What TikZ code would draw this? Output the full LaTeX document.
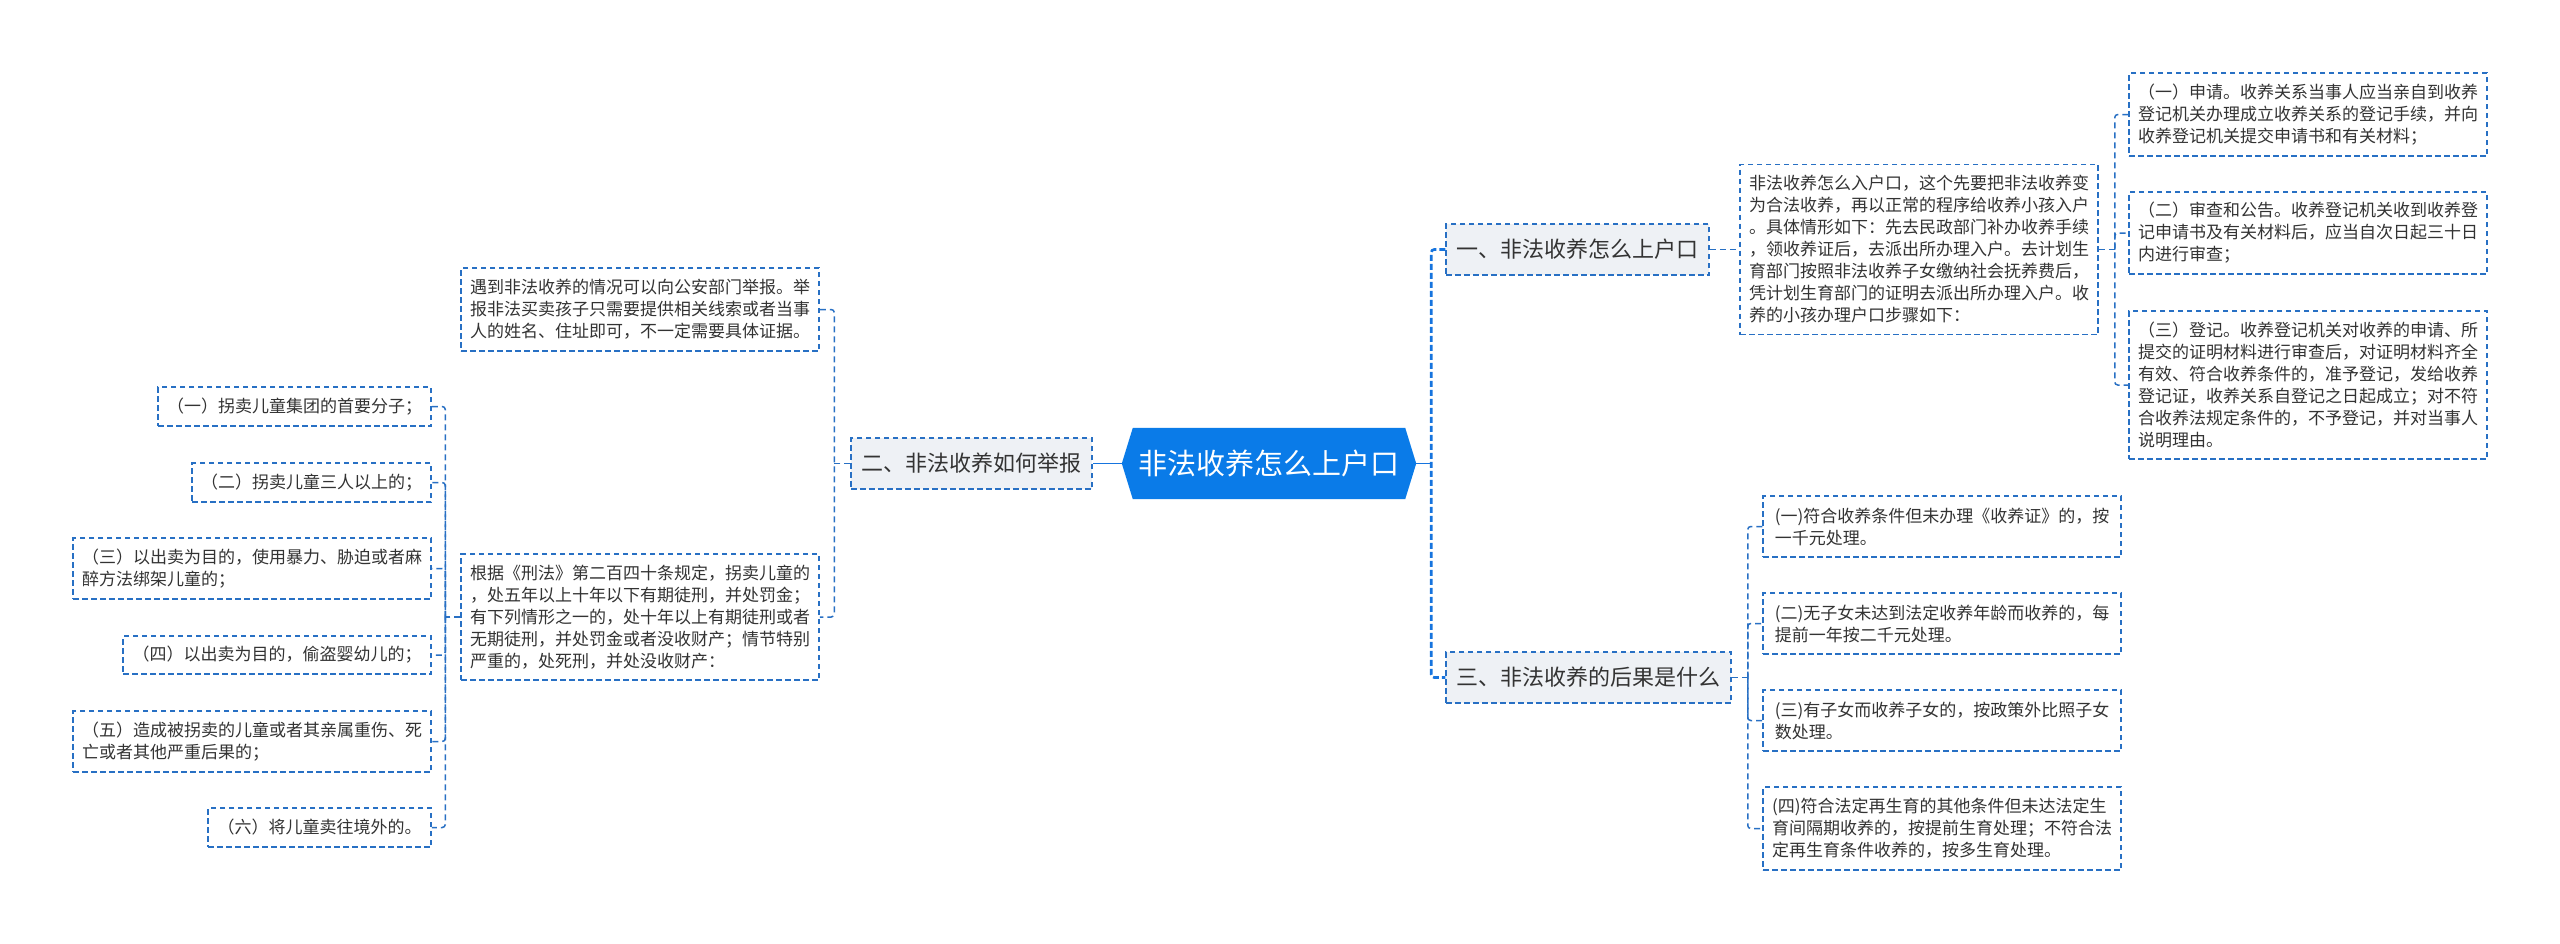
\documentclass[tikz,border=0pt]{standalone}
\usepackage{fontspec}
\setmainfont{Noto Sans CJK SC}
\usetikzlibrary{backgrounds}
\definecolor{hexblue}{RGB}{10,123,232}
\definecolor{bordblue}{RGB}{40,112,196}
\definecolor{trunkblue}{RGB}{22,116,222}
\definecolor{lgray}{RGB}{238,241,245}
\definecolor{txt}{RGB}{51,51,51}
\newcommand{\myleaffont}{\fontsize{17}{22}\selectfont}
\newcommand{\mymidfont}{\fontsize{22}{28}\selectfont}
\newcommand{\myhexfont}{\fontsize{29}{35}\selectfont}
\tikzset{
  leafbox/.style={draw=bordblue, line width=1.5pt, dash pattern=on 5.5pt off 3.5pt, fill=white, text=txt, font=\myleaffont, align=left, inner sep=0pt},
  midbox/.style={draw=bordblue, line width=1.5pt, dash pattern=on 5.5pt off 3.5pt, fill=lgray, text=txt, font=\mymidfont, inner sep=0pt},
  hexnode/.style={text=white, font=\myhexfont, inner sep=0pt},
  conn/.style={draw=bordblue, line width=1.5pt, dash pattern=on 6pt off 4pt, rounded corners=3pt},
  mainconn/.style={draw=trunkblue, line width=2.6pt, dash pattern=on 6pt off 3pt, rounded corners=3pt},
  solidconn/.style={draw=trunkblue, line width=1.8pt}
}
\begin{document}
\begin{tikzpicture}[x=1pt,y=-1pt]
\useasboundingbox (0,0) rectangle (2560,943);
% center
\node[hexnode, minimum width=294pt, minimum height=71pt] (hex) at (1269,463.5) {非法收养怎么上户口};
\begin{scope}[on background layer]
\fill[white] (0,0) rectangle (2560,943);
\fill[hexblue] (hex.west) -- ([xshift=11pt]hex.north west) -- ([xshift=-11pt]hex.north east) -- (hex.east) -- ([xshift=-11pt]hex.south east) -- ([xshift=11pt]hex.south west) -- cycle;
\end{scope}
% level 1
\node[midbox, minimum width=263pt, minimum height=51pt] (one) at (1577.5,249.5) {一、非法收养怎么上户口};
\node[midbox, minimum width=241pt, minimum height=51pt] (two) at (971.5,463.5) {二、非法收养如何举报};
\node[midbox, minimum width=285pt, minimum height=51pt] (three) at (1588.5,677.5) {三、非法收养的后果是什么};
% right top
\node[leafbox, minimum width=358pt, minimum height=170pt] (t0) at (1919,249.5) {非法收养怎么入户口，这个先要把非法收养变\\为合法收养，再以正常的程序给收养小孩入户\\。具体情形如下：先去民政部门补办收养手续\\，领收养证后，去派出所办理入户。去计划生\\育部门按照非法收养子女缴纳社会抚养费后，\\凭计划生育部门的证明去派出所办理入户。收\\养的小孩办理户口步骤如下：};
\node[leafbox, minimum width=358pt, minimum height=83pt] (r1) at (2308,114.5) {（一）申请。收养关系当事人应当亲自到收养\\登记机关办理成立收养关系的登记手续，并向\\收养登记机关提交申请书和有关材料；};
\node[leafbox, minimum width=358pt, minimum height=82pt] (r2) at (2308,233) {（二）审查和公告。收养登记机关收到收养登\\记申请书及有关材料后，应当自次日起三十日\\内进行审查；};
\node[leafbox, minimum width=358pt, minimum height=148pt] (r3) at (2308,385) {（三）登记。收养登记机关对收养的申请、所\\提交的证明材料进行审查后，对证明材料齐全\\有效、符合收养条件的，准予登记，发给收养\\登记证，收养关系自登记之日起成立；对不符\\合收养法规定条件的，不予登记，并对当事人\\说明理由。};
% right bottom
\node[leafbox, minimum width=358pt, minimum height=61pt] (s1) at (1942,526.5) {(一)符合收养条件但未办理《收养证》的，按\\一千元处理。};
\node[leafbox, minimum width=358pt, minimum height=61pt] (s2) at (1942,623.5) {(二)无子女未达到法定收养年龄而收养的，每\\提前一年按二千元处理。};
\node[leafbox, minimum width=358pt, minimum height=61pt] (s3) at (1942,720.5) {(三)有子女而收养子女的，按政策外比照子女\\数处理。};
\node[leafbox, minimum width=358pt, minimum height=83pt] (s4) at (1942,828.5) {(四)符合法定再生育的其他条件但未达法定生\\育间隔期收养的，按提前生育处理；不符合法\\定再生育条件收养的，按多生育处理。};
% left
\node[leafbox, minimum width=358pt, minimum height=83pt] (p1) at (640,309.5) {遇到非法收养的情况可以向公安部门举报。举\\报非法买卖孩子只需要提供相关线索或者当事\\人的姓名、住址即可，不一定需要具体证据。};
\node[leafbox, minimum width=358pt, minimum height=126pt] (p2) at (640,617) {根据《刑法》第二百四十条规定，拐卖儿童的\\，处五年以上十年以下有期徒刑，并处罚金；\\有下列情形之一的，处十年以上有期徒刑或者\\无期徒刑，并处罚金或者没收财产；情节特别\\严重的，处死刑，并处没收财产：};
\node[leafbox, minimum width=273pt, minimum height=39pt] (q1) at (294.5,406.5) {（一）拐卖儿童集团的首要分子；};
\node[leafbox, minimum width=239pt, minimum height=39pt] (q2) at (311.5,482.5) {（二）拐卖儿童三人以上的；};
\node[leafbox, minimum width=358pt, minimum height=61pt] (q3) at (252,568.5) {（三）以出卖为目的，使用暴力、胁迫或者麻\\醉方法绑架儿童的；};
\node[leafbox, minimum width=308pt, minimum height=38pt] (q4) at (277,655) {（四）以出卖为目的，偷盗婴幼儿的；};
\node[leafbox, minimum width=358pt, minimum height=61pt] (q5) at (252,741.5) {（五）造成被拐卖的儿童或者其亲属重伤、死\\亡或者其他严重后果的；};
\node[leafbox, minimum width=223pt, minimum height=39pt] (q6) at (319.5,827.5) {（六）将儿童卖往境外的。};
% connectors: center
\draw[solidconn] (hex.east) -- ++(15,0) coordinate (rt);
\draw[mainconn] (one.west) -| (rt) |- (three.west);
\draw[solidconn] (hex.west) -- (two.east);
% one
\draw[conn] (one.east) -- (t0.west);
\draw[conn] (t0.east) -- ++(16,0) coordinate (rt2);
\draw[conn] (r1.west) -| (rt2) |- (r3.west);
\draw[conn] (rt2) |- (r2.west);
% three
\draw[conn] (three.east) -- ++(16,0) coordinate (rt3);
\draw[conn] (s1.west) -| (rt3) |- (s4.west);
\draw[conn] (rt3) |- (s2.west);
\draw[conn] (rt3) |- (s3.west);
% two
\draw[conn] (two.west) -- ++(-16,0) coordinate (lt);
\draw[conn] (p1.east) -| (lt) |- (p2.east);
\draw[conn] (p2.west) -- ++(-15,0) coordinate (lt2);
\draw[conn] (q1.east) -| (lt2) |- (q6.east);
\draw[conn] (lt2) |- (q2.east);
\draw[conn] (lt2) |- (q3.east);
\draw[conn] (lt2) |- (q4.east);
\draw[conn] (lt2) |- (q5.east);
\end{tikzpicture}
\end{document}
